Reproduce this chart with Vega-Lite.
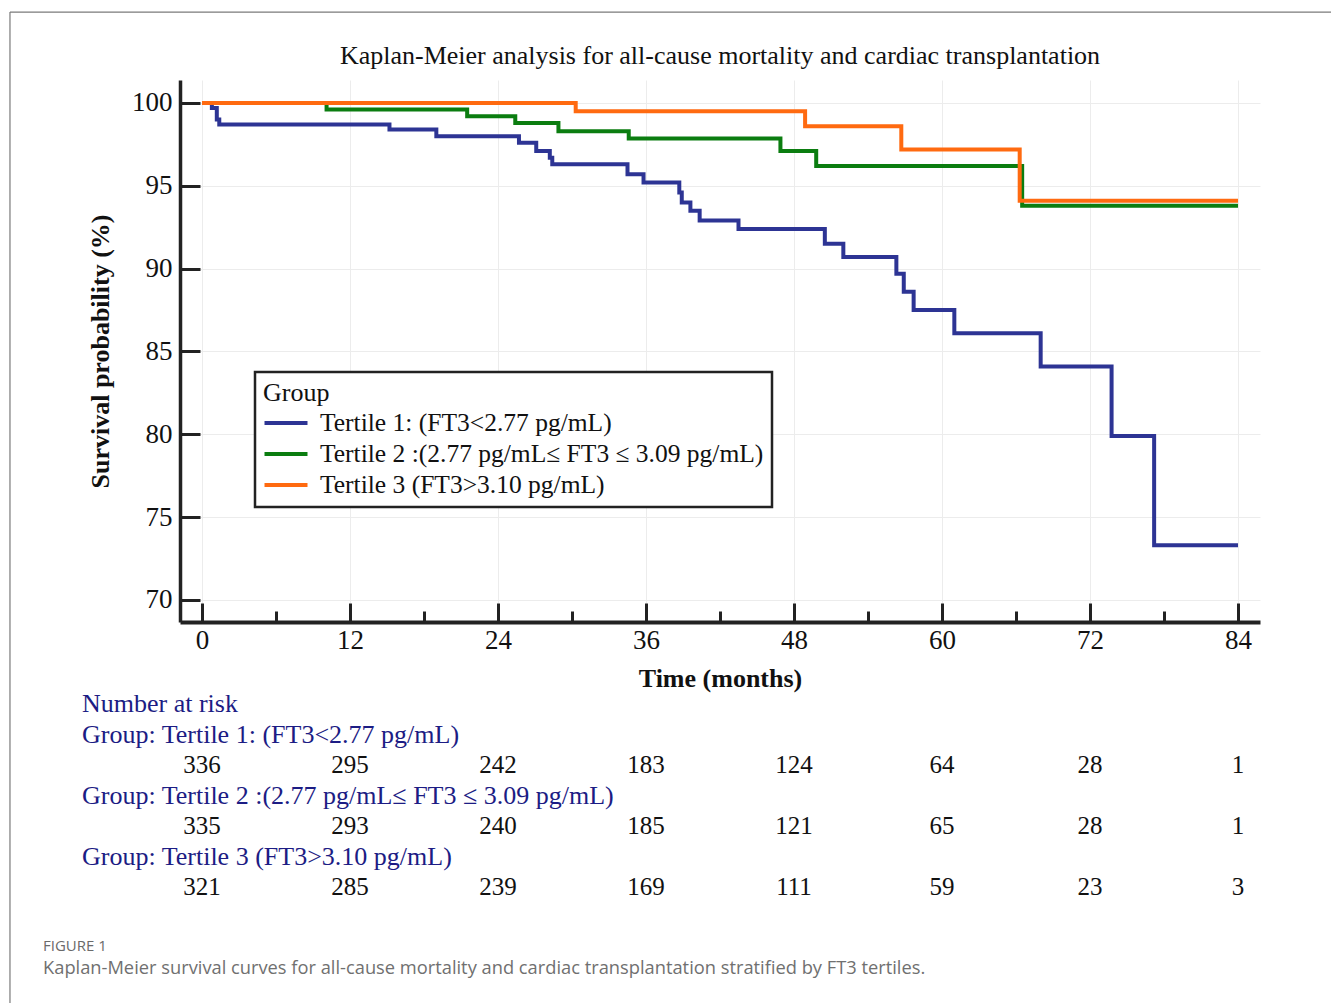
{
  "$schema": "https://vega.github.io/schema/vega-lite/v6.json",
  "width": 1080,
  "height": 542,
  "autosize": {"type": "none"},
  "padding": {"left": 180, "top": 80, "right": 71, "bottom": 381},
  "background": "white",
  "title": {
    "text": "Kaplan-Meier analysis for all-cause mortality and cardiac transplantation",
    "font": "Liberation Serif",
    "fontSize": 26,
    "fontWeight": "normal",
    "color": "#111111",
    "anchor": "middle",
    "frame": "group",
    "offset": -57.5
  },
  "config": {
    "view": {"stroke": null},
    "font": "Liberation Serif",
    "legend": {"strokeWidth": 2.5}
  },
  "datasets": {
    "km": [
      {"group": "Tertile 1: (FT3<2.77 pg/mL)", "month": 0, "surv": 100},
      {"group": "Tertile 1: (FT3<2.77 pg/mL)", "month": 0.8, "surv": 99.7},
      {"group": "Tertile 1: (FT3<2.77 pg/mL)", "month": 1.2, "surv": 99.0},
      {"group": "Tertile 1: (FT3<2.77 pg/mL)", "month": 1.4, "surv": 98.7},
      {"group": "Tertile 1: (FT3<2.77 pg/mL)", "month": 15.2, "surv": 98.4},
      {"group": "Tertile 1: (FT3<2.77 pg/mL)", "month": 19.0, "surv": 98.0},
      {"group": "Tertile 1: (FT3<2.77 pg/mL)", "month": 25.7, "surv": 97.6},
      {"group": "Tertile 1: (FT3<2.77 pg/mL)", "month": 27.1, "surv": 97.1},
      {"group": "Tertile 1: (FT3<2.77 pg/mL)", "month": 28.2, "surv": 96.7},
      {"group": "Tertile 1: (FT3<2.77 pg/mL)", "month": 28.4, "surv": 96.3},
      {"group": "Tertile 1: (FT3<2.77 pg/mL)", "month": 34.5, "surv": 95.7},
      {"group": "Tertile 1: (FT3<2.77 pg/mL)", "month": 35.8, "surv": 95.2},
      {"group": "Tertile 1: (FT3<2.77 pg/mL)", "month": 38.7, "surv": 94.6},
      {"group": "Tertile 1: (FT3<2.77 pg/mL)", "month": 38.9, "surv": 94.0},
      {"group": "Tertile 1: (FT3<2.77 pg/mL)", "month": 39.6, "surv": 93.5},
      {"group": "Tertile 1: (FT3<2.77 pg/mL)", "month": 40.35, "surv": 92.9},
      {"group": "Tertile 1: (FT3<2.77 pg/mL)", "month": 43.5, "surv": 92.4},
      {"group": "Tertile 1: (FT3<2.77 pg/mL)", "month": 50.5, "surv": 91.5},
      {"group": "Tertile 1: (FT3<2.77 pg/mL)", "month": 52.0, "surv": 90.7},
      {"group": "Tertile 1: (FT3<2.77 pg/mL)", "month": 56.3, "surv": 89.7},
      {"group": "Tertile 1: (FT3<2.77 pg/mL)", "month": 56.9, "surv": 88.6},
      {"group": "Tertile 1: (FT3<2.77 pg/mL)", "month": 57.7, "surv": 87.5},
      {"group": "Tertile 1: (FT3<2.77 pg/mL)", "month": 61.0, "surv": 86.1},
      {"group": "Tertile 1: (FT3<2.77 pg/mL)", "month": 68.0, "surv": 84.1},
      {"group": "Tertile 1: (FT3<2.77 pg/mL)", "month": 73.75, "surv": 79.9},
      {"group": "Tertile 1: (FT3<2.77 pg/mL)", "month": 77.2, "surv": 73.3},
      {"group": "Tertile 1: (FT3<2.77 pg/mL)", "month": 84, "surv": 73.3},
      {"group": "Tertile 2 :(2.77 pg/mL≤ FT3 ≤ 3.09 pg/mL)", "month": 0, "surv": 100},
      {"group": "Tertile 2 :(2.77 pg/mL≤ FT3 ≤ 3.09 pg/mL)", "month": 10.1, "surv": 99.6},
      {"group": "Tertile 2 :(2.77 pg/mL≤ FT3 ≤ 3.09 pg/mL)", "month": 21.5, "surv": 99.2},
      {"group": "Tertile 2 :(2.77 pg/mL≤ FT3 ≤ 3.09 pg/mL)", "month": 25.4, "surv": 98.8},
      {"group": "Tertile 2 :(2.77 pg/mL≤ FT3 ≤ 3.09 pg/mL)", "month": 28.9, "surv": 98.3},
      {"group": "Tertile 2 :(2.77 pg/mL≤ FT3 ≤ 3.09 pg/mL)", "month": 34.6, "surv": 97.85},
      {"group": "Tertile 2 :(2.77 pg/mL≤ FT3 ≤ 3.09 pg/mL)", "month": 46.9, "surv": 97.1},
      {"group": "Tertile 2 :(2.77 pg/mL≤ FT3 ≤ 3.09 pg/mL)", "month": 49.8, "surv": 96.2},
      {"group": "Tertile 2 :(2.77 pg/mL≤ FT3 ≤ 3.09 pg/mL)", "month": 66.5, "surv": 93.8},
      {"group": "Tertile 2 :(2.77 pg/mL≤ FT3 ≤ 3.09 pg/mL)", "month": 84, "surv": 93.8},
      {"group": "Tertile 3 (FT3>3.10 pg/mL)", "month": 0, "surv": 100},
      {"group": "Tertile 3 (FT3>3.10 pg/mL)", "month": 30.3, "surv": 99.5},
      {"group": "Tertile 3 (FT3>3.10 pg/mL)", "month": 48.9, "surv": 98.6},
      {"group": "Tertile 3 (FT3>3.10 pg/mL)", "month": 56.7, "surv": 97.2},
      {"group": "Tertile 3 (FT3>3.10 pg/mL)", "month": 66.3, "surv": 94.1},
      {"group": "Tertile 3 (FT3>3.10 pg/mL)", "month": 84, "surv": 94.1}
    ],
    "headers": [
      {"row": "title", "label": "Number at risk"},
      {"row": "g1", "label": "Group: Tertile 1: (FT3<2.77 pg/mL)"},
      {"row": "g2", "label": "Group: Tertile 2 :(2.77 pg/mL≤ FT3 ≤ 3.09 pg/mL)"},
      {"row": "g3", "label": "Group: Tertile 3 (FT3>3.10 pg/mL)"}
    ],
    "risk": [
      {"row": "n1", "month": 0, "n": 336},
      {"row": "n1", "month": 12, "n": 295},
      {"row": "n1", "month": 24, "n": 242},
      {"row": "n1", "month": 36, "n": 183},
      {"row": "n1", "month": 48, "n": 124},
      {"row": "n1", "month": 60, "n": 64},
      {"row": "n1", "month": 72, "n": 28},
      {"row": "n1", "month": 84, "n": 1},
      {"row": "n2", "month": 0, "n": 335},
      {"row": "n2", "month": 12, "n": 293},
      {"row": "n2", "month": 24, "n": 240},
      {"row": "n2", "month": 36, "n": 185},
      {"row": "n2", "month": 48, "n": 121},
      {"row": "n2", "month": 60, "n": 65},
      {"row": "n2", "month": 72, "n": 28},
      {"row": "n2", "month": 84, "n": 1},
      {"row": "n3", "month": 0, "n": 321},
      {"row": "n3", "month": 12, "n": 285},
      {"row": "n3", "month": 24, "n": 239},
      {"row": "n3", "month": 36, "n": 169},
      {"row": "n3", "month": 48, "n": 111},
      {"row": "n3", "month": 60, "n": 59},
      {"row": "n3", "month": 72, "n": 23},
      {"row": "n3", "month": 84, "n": 3}
    ],
    "figlabel": [{"row": "figure", "label": "FIGURE 1"}],
    "caption": [{"row": "caption", "label": "Kaplan-Meier survival curves for all-cause mortality and cardiac transplantation stratified by FT3 tertiles."}],
    "frame": [{"part": "figure frame"}]
  },
  "layer": [
    {
      "data": {"name": "km"},
      "mark": {"type": "line", "interpolate": "step-after", "strokeWidth": 4, "strokeJoin": "miter"},
      "encoding": {
        "x": {
          "field": "month",
          "type": "quantitative",
          "scale": {"domain": [-1.784, 85.784], "nice": false, "zero": false},
          "axis": {
            "orient": "bottom",
            "values": [0, 6, 12, 18, 24, 30, 36, 42, 48, 54, 60, 66, 72, 78, 84],
            "labelExpr": "datum.value % 12 === 0 ? datum.label : ''",
            "tickSize": {"condition": {"test": "datum.value % 12 === 0", "value": -19}, "value": -11},
            "tickWidth": 3,
            "tickColor": "#222222",
            "domainWidth": 4,
            "domainColor": "#222222",
            "grid": true,
            "gridColor": "#ececec",
            "gridWidth": 1,
            "gridOpacity": {"condition": {"test": "datum.value % 12 === 0", "value": 1}, "value": 0},
            "labelFont": "Liberation Serif",
            "labelFontSize": 27,
            "labelColor": "#111111",
            "labelPadding": 24,
            "labelFlush": false,
            "title": "Time (months)",
            "titleFont": "Liberation Serif",
            "titleFontSize": 26,
            "titleFontWeight": "bold",
            "titleColor": "#111111",
            "titlePadding": 12
          }
        },
        "y": {
          "field": "surv",
          "type": "quantitative",
          "scale": {"domain": [68.672, 101.388], "nice": false, "zero": false},
          "axis": {
            "values": [70, 75, 80, 85, 90, 95, 100],
            "tickSize": -20,
            "tickWidth": 3,
            "tickColor": "#222222",
            "domainWidth": 3.5,
            "domainColor": "#222222",
            "grid": true,
            "gridColor": "#ececec",
            "gridWidth": 1,
            "labelFont": "Liberation Serif",
            "labelFontSize": 27,
            "labelColor": "#111111",
            "labelPadding": 28,
            "labelFlush": false,
            "title": "Survival probability (%)",
            "titleFont": "Liberation Serif",
            "titleFontSize": 26,
            "titleFontWeight": "bold",
            "titleColor": "#111111",
            "titlePadding": 18
          }
        },
        "color": {
          "field": "group",
          "type": "nominal",
          "scale": {
            "domain": ["Tertile 1: (FT3<2.77 pg/mL)", "Tertile 2 :(2.77 pg/mL≤ FT3 ≤ 3.09 pg/mL)", "Tertile 3 (FT3>3.10 pg/mL)"],
            "range": ["#2d3494", "#0b7d10", "#ff6a10"]
          },
          "legend": {
            "orient": "none",
            "legendX": 75,
            "legendY": 292,
            "title": "Group",
            "titleFont": "Liberation Serif",
            "titleFontSize": 26,
            "titleFontWeight": "normal",
            "titleColor": "#111111",
            "titlePadding": 4,
            "labelFont": "Liberation Serif",
            "labelFontSize": 25.5,
            "labelColor": "#111111",
            "labelLimit": 700,
            "labelOffset": 21,
            "symbolType": "M-2,0H2",
            "symbolSize": 462,
            "symbolOffset": 10,
            "symbolStrokeWidth": 4,
            "rowPadding": 4,
            "padding": 8,
            "strokeColor": "#222222",
            "fillColor": "white"
          }
        }
      }
    },
    {
      "data": {"name": "headers"},
      "mark": {"type": "text", "align": "left", "baseline": "middle", "font": "Liberation Serif", "fontSize": 26, "color": "#1c1c84"},
      "encoding": {
        "x": {"datum": -9.73, "type": "quantitative", "scale": {"domain": [-1.784, 85.784], "nice": false, "zero": false}, "axis": null},
        "y": {"field": "row", "type": "ordinal", "scale": {"type": "point", "domain": ["title", "g1", "n1", "g2", "n2", "g3", "n3"], "range": [624, 807], "padding": 0}, "axis": null},
        "text": {"field": "label"}
      }
    },
    {
      "data": {"name": "risk"},
      "mark": {"type": "text", "align": "center", "baseline": "middle", "font": "Liberation Serif", "fontSize": 25, "color": "#111111"},
      "encoding": {
        "x": {"field": "month", "type": "quantitative", "scale": {"domain": [-1.784, 85.784], "nice": false, "zero": false}, "axis": null},
        "y": {"field": "row", "type": "ordinal", "scale": {"type": "point", "domain": ["title", "g1", "n1", "g2", "n2", "g3", "n3"], "range": [624, 807], "padding": 0}, "axis": null},
        "text": {"field": "n"}
      }
    },
    {
      "data": {"name": "figlabel"},
      "mark": {"type": "text", "align": "left", "baseline": "middle", "font": "Open Sans", "fontSize": 15, "color": "#6a6a6a"},
      "encoding": {
        "x": {"datum": -12.89, "type": "quantitative", "scale": {"domain": [-1.784, 85.784], "nice": false, "zero": false}, "axis": null},
        "y": {"field": "row", "type": "ordinal", "scale": {"type": "point", "domain": ["figure", "caption"], "range": [866, 889], "padding": 0}, "axis": null},
        "text": {"field": "label"}
      }
    },
    {
      "data": {"name": "caption"},
      "mark": {"type": "text", "align": "left", "baseline": "middle", "font": "Open Sans", "fontSize": 18.3, "color": "#707070"},
      "encoding": {
        "x": {"datum": -12.89, "type": "quantitative", "scale": {"domain": [-1.784, 85.784], "nice": false, "zero": false}, "axis": null},
        "y": {"field": "row", "type": "ordinal", "scale": {"type": "point", "domain": ["figure", "caption"], "range": [866, 889], "padding": 0}, "axis": null},
        "text": {"field": "label"}
      }
    },
    {
      "data": {"name": "frame"},
      "mark": {"type": "rule", "color": "#7a7a7a", "strokeWidth": 1.2},
      "encoding": {
        "x": {"datum": -15.57, "type": "quantitative", "scale": {"domain": [-1.784, 85.784], "nice": false, "zero": false}, "axis": null},
        "x2": {"datum": 100},
        "y": {"datum": 105.49, "type": "quantitative", "scale": {"domain": [68.672, 101.388], "nice": false, "zero": false}, "axis": null}
      }
    },
    {
      "data": {"name": "frame"},
      "mark": {"type": "rule", "color": "#7a7a7a", "strokeWidth": 1.2},
      "encoding": {
        "x": {"datum": -15.57, "type": "quantitative", "scale": {"domain": [-1.784, 85.784], "nice": false, "zero": false}, "axis": null},
        "y": {"datum": 105.49, "type": "quantitative", "scale": {"domain": [68.672, 101.388], "nice": false, "zero": false}, "axis": null},
        "y2": {"datum": 40}
      }
    }
  ],
  "resolve": {"scale": {"y": "independent"}, "axis": {"x": "independent"}}
}
